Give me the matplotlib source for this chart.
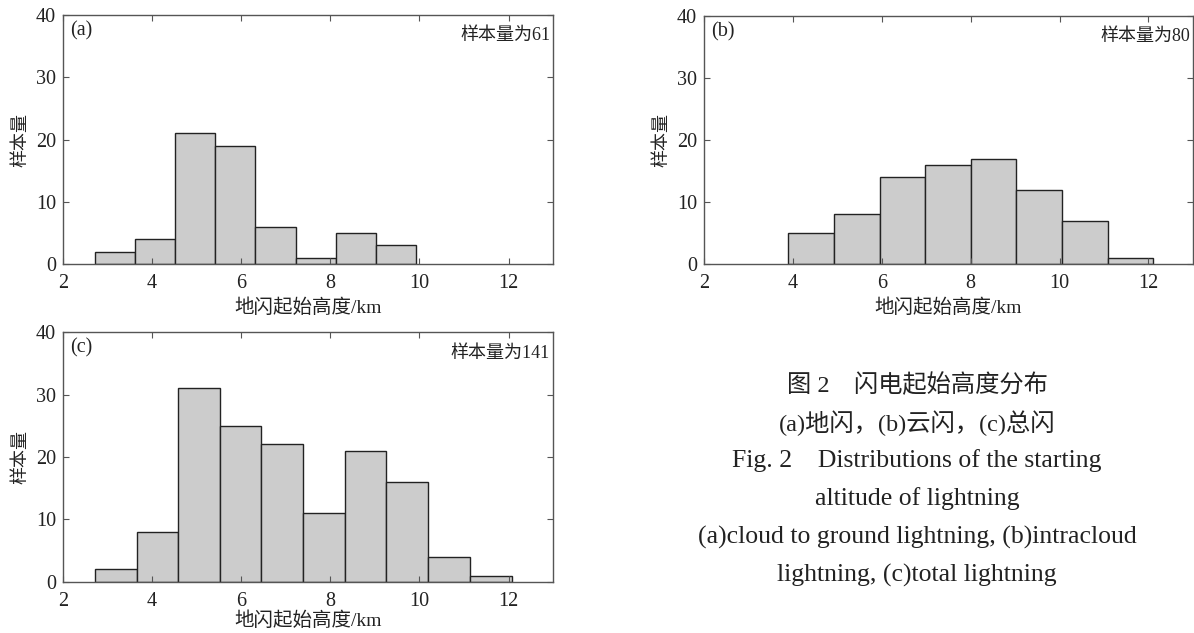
import numpy as np
import matplotlib
matplotlib.use("Agg")
from matplotlib import pyplot as plt

plt.rcParams['font.family'] = ['Liberation Serif', 'Noto Sans CJK SC']
plt.rcParams['axes.unicode_minus'] = False

# bin edges (km) and counts
a_edges = [2.71, 3.61, 4.51, 5.41, 6.31, 7.22, 8.12, 9.02, 9.93]
a_counts = [2, 4, 21, 19, 6, 1, 5, 3]

b_edges = [3.90, 4.93, 5.95, 6.98, 8.00, 9.03, 10.05, 11.08, 12.10]
b_counts = [5, 8, 14, 16, 17, 12, 7, 1]

c_edges = [2.72, 3.65, 4.59, 5.52, 6.45, 7.39, 8.33, 9.26, 10.20, 11.13, 12.07]
c_counts = [2, 8, 31, 25, 22, 11, 21, 16, 4, 1]

panel_tags = ['(a)', '(b)', '(c)']
sample_labels = ['样本量为61', '样本量为80', '样本量为141']
x_label = '地闪起始高度/km'
y_label = '样本量'

caption_lines = ['图 2　闪电起始高度分布',
                 '(a)地闪，(b)云闪，(c)总闪',
                 'Fig. 2　Distributions of the starting',
                 'altitude of lightning',
                 '(a)cloud to ground lightning, (b)intracloud',
                 'lightning, (c)total lightning']
caption_sizes = [17.5, 17.5, 18.5, 18.5, 18.5, 18.5]

FILL = '#cccccc'
EDGE = '#222222'
SPINE = '#555555'
TEXT = '#222222'

fig = plt.figure(figsize=(11.94, 6.33), dpi=100)
rects = [[0.0528, 0.5829, 0.4104, 0.3934],
         [0.5896, 0.5829, 0.4095, 0.3918],
         [0.0528, 0.0806, 0.4104, 0.3949]]
data = [(a_edges, a_counts), (b_edges, b_counts), (c_edges, c_counts)]
xlabel_pads = [4, 4, 0.5]

for i, (rect, (edges, counts)) in enumerate(zip(rects, data)):
    ax = fig.add_axes(rect)
    edges = np.asarray(edges)
    ax.bar(edges[:-1], counts, width=np.diff(edges), align='edge',
           color=FILL, edgecolor=EDGE, linewidth=1.0)
    ax.set_xlim(2, 13)
    ax.set_ylim(0, 40)
    ax.set_xticks([2, 4, 6, 8, 10, 12])
    ax.set_yticks([0, 10, 20, 30, 40])
    ax.tick_params(direction='in', top=True, right=True, length=4, width=0.8,
                   color=SPINE, labelsize=14.5, labelcolor=TEXT)
    ax.tick_params(axis='x', pad=7)
    ax.tick_params(axis='y', pad=5)
    for sp in ax.spines.values():
        sp.set_color(SPINE)
        sp.set_linewidth(1.0)
    ax.set_xlabel(x_label, fontsize=14, color=TEXT, labelpad=xlabel_pads[i])
    ax.set_ylabel(y_label, fontsize=13, color=TEXT, labelpad=5)
    ax.text(0.014, 0.936, panel_tags[i], transform=ax.transAxes,
            ha='left', va='center', fontsize=14.5, color=TEXT)
    ax.text(0.994, 0.916, sample_labels[i], transform=ax.transAxes,
            ha='right', va='center', fontsize=13, color=TEXT)

y0 = 1 - 385 / 633
step = 38 / 633
for k, (line, fs) in enumerate(zip(caption_lines, caption_sizes)):
    fig.text(917 / 1194, y0 - k * step, line, ha='center', va='center',
             fontsize=fs, color=TEXT)

fig.savefig('out.png', dpi=100)
